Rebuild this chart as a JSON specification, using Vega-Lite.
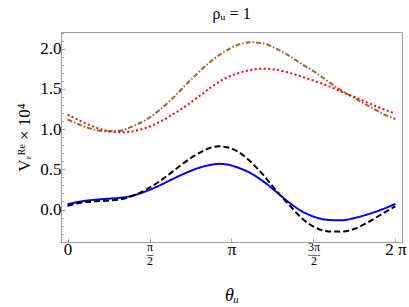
{
  "$schema": "https://vega.github.io/schema/vega-lite/v6.json",
  "autosize": "none",
  "width": 341,
  "height": 210,
  "padding": {"left": 61, "top": 32, "right": 7, "bottom": 65},
  "title": {
    "text": "ρᵤ = 1",
    "font": "Liberation Serif",
    "fontSize": 16,
    "fontWeight": "normal",
    "baseline": "alphabetic",
    "offset": -3,
    "color": "#000000"
  },
  "config": {
    "view": {"stroke": "#a0a0a0", "strokeWidth": 1},
    "axis": {
      "domainColor": "#a0a0a0",
      "tickColor": "#a0a0a0",
      "grid": false,
      "labelFont": "Liberation Serif",
      "labelColor": "#000000",
      "titleFont": "Liberation Serif",
      "titleColor": "#000000",
      "titleFontWeight": "normal"
    }
  },
  "data": {
    "values": [
      {"s": "brown", "t": 0, "v": 1.12},
      {"s": "brown", "t": 0.25, "v": 1.05},
      {"s": "brown", "t": 0.5, "v": 0.995},
      {"s": "brown", "t": 0.75, "v": 0.974},
      {"s": "brown", "t": 1.0, "v": 0.98},
      {"s": "brown", "t": 1.25, "v": 1.035},
      {"s": "brown", "t": 1.5, "v": 1.115},
      {"s": "brown", "t": 1.75, "v": 1.23},
      {"s": "brown", "t": 2.0, "v": 1.375},
      {"s": "brown", "t": 2.25, "v": 1.54},
      {"s": "brown", "t": 2.5, "v": 1.70},
      {"s": "brown", "t": 2.75, "v": 1.845},
      {"s": "brown", "t": 3.0, "v": 1.96},
      {"s": "brown", "t": 3.25, "v": 2.045},
      {"s": "brown", "t": 3.5, "v": 2.08},
      {"s": "brown", "t": 3.75, "v": 2.065},
      {"s": "brown", "t": 4.0, "v": 2.0},
      {"s": "brown", "t": 4.25, "v": 1.91},
      {"s": "brown", "t": 4.5, "v": 1.805},
      {"s": "brown", "t": 4.75, "v": 1.705},
      {"s": "brown", "t": 5.0, "v": 1.59},
      {"s": "brown", "t": 5.25, "v": 1.48},
      {"s": "brown", "t": 5.5, "v": 1.385},
      {"s": "brown", "t": 5.75, "v": 1.295},
      {"s": "brown", "t": 6.0, "v": 1.205},
      {"s": "brown", "t": 6.2832, "v": 1.125},
      {"s": "red", "t": 0, "v": 1.18},
      {"s": "red", "t": 0.25, "v": 1.10},
      {"s": "red", "t": 0.5, "v": 1.03},
      {"s": "red", "t": 0.75, "v": 0.98},
      {"s": "red", "t": 1.0, "v": 0.96},
      {"s": "red", "t": 1.25, "v": 0.972},
      {"s": "red", "t": 1.5, "v": 1.015},
      {"s": "red", "t": 1.75, "v": 1.085},
      {"s": "red", "t": 2.0, "v": 1.175},
      {"s": "red", "t": 2.25, "v": 1.28},
      {"s": "red", "t": 2.5, "v": 1.40},
      {"s": "red", "t": 2.75, "v": 1.52},
      {"s": "red", "t": 3.0, "v": 1.625},
      {"s": "red", "t": 3.25, "v": 1.69},
      {"s": "red", "t": 3.5, "v": 1.735},
      {"s": "red", "t": 3.75, "v": 1.752},
      {"s": "red", "t": 4.0, "v": 1.74},
      {"s": "red", "t": 4.25, "v": 1.70},
      {"s": "red", "t": 4.5, "v": 1.65},
      {"s": "red", "t": 4.75, "v": 1.595},
      {"s": "red", "t": 5.0, "v": 1.535},
      {"s": "red", "t": 5.25, "v": 1.465},
      {"s": "red", "t": 5.5, "v": 1.40},
      {"s": "red", "t": 5.75, "v": 1.33},
      {"s": "red", "t": 6.0, "v": 1.26},
      {"s": "red", "t": 6.2832, "v": 1.195},
      {"s": "blue", "t": 0, "v": 0.065},
      {"s": "blue", "t": 0.25, "v": 0.10},
      {"s": "blue", "t": 0.5, "v": 0.12},
      {"s": "blue", "t": 0.75, "v": 0.133},
      {"s": "blue", "t": 1.0, "v": 0.145},
      {"s": "blue", "t": 1.25, "v": 0.173},
      {"s": "blue", "t": 1.5, "v": 0.226},
      {"s": "blue", "t": 1.75, "v": 0.295},
      {"s": "blue", "t": 2.0, "v": 0.375},
      {"s": "blue", "t": 2.25, "v": 0.45},
      {"s": "blue", "t": 2.5, "v": 0.515},
      {"s": "blue", "t": 2.75, "v": 0.556},
      {"s": "blue", "t": 2.9, "v": 0.568},
      {"s": "blue", "t": 3.0, "v": 0.565},
      {"s": "blue", "t": 3.25, "v": 0.525},
      {"s": "blue", "t": 3.5, "v": 0.455},
      {"s": "blue", "t": 3.75, "v": 0.35},
      {"s": "blue", "t": 4.0, "v": 0.22},
      {"s": "blue", "t": 4.25, "v": 0.085},
      {"s": "blue", "t": 4.5, "v": -0.025},
      {"s": "blue", "t": 4.75, "v": -0.095},
      {"s": "blue", "t": 5.0, "v": -0.13},
      {"s": "blue", "t": 5.25, "v": -0.135},
      {"s": "blue", "t": 5.5, "v": -0.105},
      {"s": "blue", "t": 5.75, "v": -0.06},
      {"s": "blue", "t": 6.0, "v": -0.005},
      {"s": "blue", "t": 6.2832, "v": 0.07},
      {"s": "black", "t": 0, "v": 0.045},
      {"s": "black", "t": 0.25, "v": 0.085},
      {"s": "black", "t": 0.5, "v": 0.10},
      {"s": "black", "t": 0.75, "v": 0.11},
      {"s": "black", "t": 1.0, "v": 0.124},
      {"s": "black", "t": 1.25, "v": 0.172},
      {"s": "black", "t": 1.5, "v": 0.245},
      {"s": "black", "t": 1.75, "v": 0.345},
      {"s": "black", "t": 2.0, "v": 0.465},
      {"s": "black", "t": 2.25, "v": 0.59},
      {"s": "black", "t": 2.5, "v": 0.695},
      {"s": "black", "t": 2.75, "v": 0.77},
      {"s": "black", "t": 2.9, "v": 0.787},
      {"s": "black", "t": 3.0, "v": 0.782},
      {"s": "black", "t": 3.25, "v": 0.725},
      {"s": "black", "t": 3.5, "v": 0.60},
      {"s": "black", "t": 3.75, "v": 0.43},
      {"s": "black", "t": 4.0, "v": 0.235},
      {"s": "black", "t": 4.25, "v": 0.055},
      {"s": "black", "t": 4.5, "v": -0.115},
      {"s": "black", "t": 4.75, "v": -0.225},
      {"s": "black", "t": 5.0, "v": -0.272},
      {"s": "black", "t": 5.25, "v": -0.275},
      {"s": "black", "t": 5.5, "v": -0.24},
      {"s": "black", "t": 5.75, "v": -0.16},
      {"s": "black", "t": 6.0, "v": -0.065},
      {"s": "black", "t": 6.2832, "v": 0.04}
    ]
  },
  "encoding": {
    "x": {
      "field": "t", "type": "quantitative",
      "scale": {"domain": [-0.1257, 6.409], "nice": false, "zero": false},
      "axis": {
        "values": [0, 1.5707963, 3.1415927, 4.712389, 6.2831853],
        "labelExpr": "datum.value < 0.5 ? '0' : datum.value < 2 ? ['π', '–', '2'] : datum.value < 4 ? 'π' : datum.value < 5 ? ['3π', '—', '2'] : '2 π'",
        "labelFontSize": {"condition": {"test": "(datum.value > 1 && datum.value < 2) || (datum.value > 4.5 && datum.value < 5)", "value": 12}, "value": 17},
        "labelLineHeight": 7,
        "labelBaseline": "top",
        "labelOverlap": false,
        "tickSize": -4,
        "labelPadding": 3,
        "title": "θᵤ",
        "titleFontSize": 18,
        "titleFontStyle": "italic",
        "titlePadding": 20
      }
    }
  },
  "layer": [
    {
      "mark": {"type": "line", "strokeWidth": 2, "interpolate": "monotone"},
      "encoding": {
        "y": {
          "field": "v", "type": "quantitative",
          "scale": {"domain": [-0.404, 2.208], "nice": false, "zero": false},
          "axis": {
            "orient": "left",
            "values": [0, 0.5, 1, 1.5, 2],
            "format": ".1f",
            "labelFontSize": 17,
            "tickSize": -4,
            "labelPadding": 4,
            "title": "Vᵣᴿᵉ × 10⁴",
            "titleFontSize": 17,
            "titlePadding": 6
          }
        },
        "color": {
          "field": "s", "type": "nominal", "legend": null,
          "scale": {"domain": ["brown", "red", "blue", "black"], "range": ["#996633", "#ff0000", "#0000ff", "#000000"]}
        },
        "strokeDash": {
          "field": "s", "type": "nominal", "legend": null,
          "scale": {"domain": ["brown", "red", "blue", "black"], "range": [[5, 2, 1.5, 2], [2, 2.5], [1, 0], [6, 3]]}
        }
      }
    },
    {
      "mark": {"type": "line", "opacity": 0},
      "encoding": {
        "y": {
          "field": "v", "type": "quantitative",
          "scale": {"domain": [-0.404, 2.208], "nice": false, "zero": false},
          "axis": {
            "orient": "left",
            "values": [-0.4, -0.3, -0.2, -0.1, 0.1, 0.2, 0.3, 0.4, 0.6, 0.7, 0.8, 0.9, 1.1, 1.2, 1.3, 1.4, 1.6, 1.7, 1.8, 1.9, 2.1, 2.2],
            "labels": false, "domain": false, "tickSize": -2.5, "title": null
          }
        },
        "detail": {"field": "s"}
      }
    }
  ],
  "resolve": {"axis": {"y": "independent"}}
}
